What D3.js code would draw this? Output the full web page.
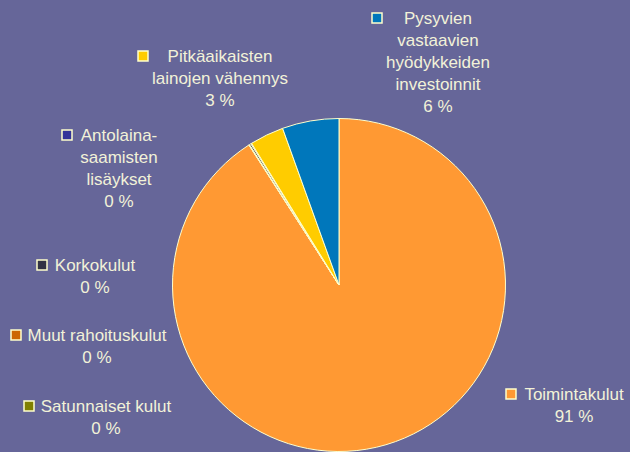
<!DOCTYPE html>
<html>
<head>
<meta charset="utf-8">
<script src="https://cdn.jsdelivr.net/npm/d3@7"></script>
<style>
  body { margin: 0; background: #666699; }
  svg text { font-family: "Liberation Sans", Arial, sans-serif; font-size: 17px; fill: #f2f2d8; }
</style>
</head>
<body>
<svg id="chart" width="630" height="452"></svg>
<script>
// slice order, clockwise from 12 o'clock
const categories = ["Toimintakulut", "Satunnaiset kulut", "Muut rahoituskulut", "Korkokulut",
  "Antolaina-saamisten lisäykset", "Pitkäaikaisten lainojen vähennys", "Pysyvien vastaavien hyödykkeiden investoinnit"];
const values = [90.9, 0.02, 0.05, 0.15, 0.08, 3.3, 5.5];
const colors = ["#ff9933", "#808000", "#cc6600", "#333344", "#333399", "#ffcc00", "#0077bb"];

// label lines as written in the chart
const labelLines = [
  ["Toimintakulut"],
  ["Satunnaiset kulut"],
  ["Muut rahoituskulut"],
  ["Korkokulut"],
  ["Antolaina-", "saamisten", "lisäykset"],
  ["Pitkäaikaisten", "lainojen vähennys"],
  ["Pysyvien", "vastaavien", "hyödykkeiden", "investoinnit"]
];
// label placement: text center x, first line y, key box x
const labelPos = [
  {x: 574, y: 394, kx: 511},
  {x: 106, y: 406, kx: 29},
  {x: 97, y: 335, kx: 16},
  {x: 95, y: 265, kx: 42},
  {x: 119, y: 135, kx: 67},
  {x: 220, y: 56, kx: 143},
  {x: 438, y: 18, kx: 377}
];

const svg = d3.select("#chart");
const cx = 339, cy = 285, r = 166.5;
const total = d3.sum(values);

const pie = d3.pie().sort(null).value(d => d)(values);
const arc = d3.arc().innerRadius(0).outerRadius(r);

svg.append("g")
  .attr("transform", "translate(" + cx + "," + cy + ")")
  .selectAll("path")
  .data(pie).enter()
  .append("path")
  .attr("d", arc)
  .attr("fill", (d, i) => colors[i])
  .attr("stroke", "#ffffcc")
  .attr("stroke-width", 1);

const lh = 22;
const labels = svg.append("g").selectAll("g")
  .data(categories).enter()
  .append("g");

labels.each(function (name, i) {
  const g = d3.select(this);
  const p = labelPos[i];
  const lines = labelLines[i].concat([Math.round(values[i] / total * 100) + " %"]);
  lines.forEach((t, j) => {
    g.append("text")
      .attr("x", p.x)
      .attr("y", p.y + j * lh)
      .attr("text-anchor", "middle")
      .attr("dominant-baseline", "central")
      .text(t);
  });
  g.append("rect")
    .attr("x", p.kx - 5)
    .attr("y", p.y - 5)
    .attr("width", 10)
    .attr("height", 10)
    .attr("fill", colors[i])
    .attr("stroke", "#ffffcc")
    .attr("stroke-width", 1.5);
});
</script>
</body>
</html>
